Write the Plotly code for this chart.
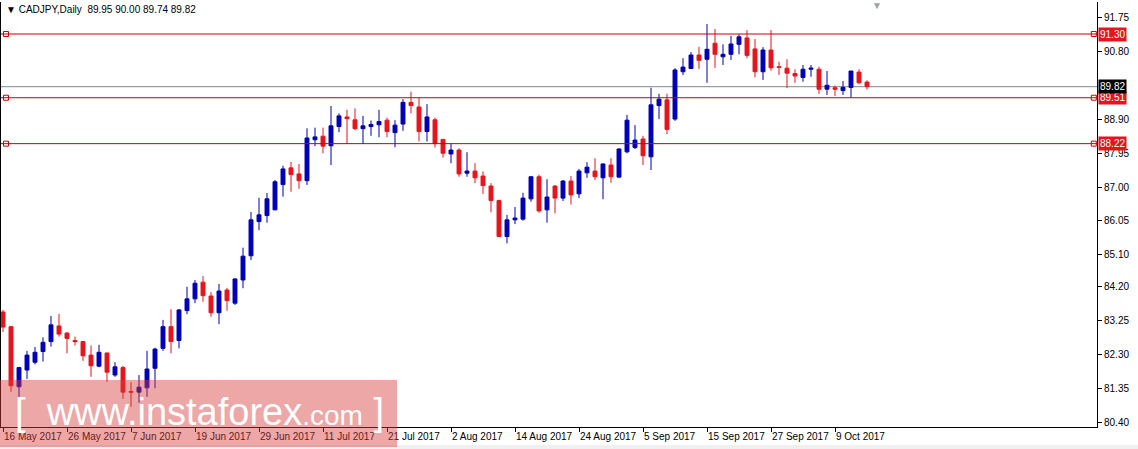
import plotly.graph_objects as go

# ---------------- data ----------------
opens = [83.49, 83.08, 81.39, 81.86, 82.08, 82.38, 82.66, 83.10, 82.90, 82.69,
         82.66, 82.28, 81.97, 82.34, 81.72, 81.93, 81.26, 81.24, 81.36, 81.91,
         82.47, 83.08, 82.69, 83.53, 83.86, 84.33, 83.94, 83.47, 84.11, 83.74,
         84.39, 85.07, 86.03, 86.20, 86.36, 87.07, 87.54, 87.37, 87.18, 88.33,
         88.43, 88.16, 88.70, 88.97, 88.89, 88.64, 88.70, 88.75, 88.88, 88.53,
         88.77, 89.38, 89.25, 88.56, 88.89, 88.34, 87.93, 88.04, 87.39, 87.45,
         87.31, 87.03, 86.62, 85.61, 86.08, 86.10, 86.67, 87.29, 86.36, 87.03,
         86.69, 87.17, 86.81, 87.40, 87.45, 87.26, 87.62, 87.28, 87.99, 88.11,
         88.35, 87.85, 89.29, 89.45, 88.91, 90.24, 90.33, 90.71, 90.59, 91.04,
         90.66, 90.73, 91.01, 91.19, 90.88, 90.24, 90.85, 90.38, 90.34, 90.19,
         90.08, 90.31, 90.31, 89.75, 89.79, 89.71, 89.80, 90.23, 89.95]
highs = [83.55, 83.10, 81.95, 82.40, 82.51, 82.78, 83.38, 83.44, 82.92, 82.80,
         82.68, 82.55, 82.57, 82.35, 82.08, 81.98, 81.52, 81.72, 82.40, 82.49,
         83.27, 83.57, 83.57, 84.20, 84.39, 84.50, 84.05, 84.28, 84.17, 84.44,
         85.30, 86.30, 86.70, 86.83, 87.20, 87.60, 87.71, 87.65, 88.65, 88.67,
         88.67, 89.28, 89.07, 89.17, 89.21, 89.00, 88.87, 89.17, 88.95, 88.88,
         89.47, 89.68, 89.51, 89.33, 88.95, 88.35, 88.23, 88.09, 87.98, 87.67,
         87.44, 87.11, 86.65, 86.22, 86.44, 86.84, 87.31, 87.35, 87.22, 87.05,
         87.20, 87.31, 87.51, 87.70, 87.81, 87.66, 87.81, 88.09, 89.03, 88.74,
         88.44, 89.79, 89.62, 89.62, 90.34, 90.62, 90.79, 90.94, 91.58, 91.44,
         91.01, 91.25, 91.29, 91.41, 91.16, 90.93, 91.41, 90.52, 90.59, 90.31,
         90.43, 90.43, 90.38, 90.26, 89.85, 89.98, 90.26, 90.31, 90.00]
lows = [82.93, 81.25, 80.58, 81.61, 82.02, 82.10, 82.52, 82.80, 82.33, 82.55,
        82.12, 81.67, 81.94, 81.53, 81.67, 81.05, 80.83, 80.94, 81.11, 81.35,
        82.40, 82.33, 82.47, 83.43, 83.74, 83.78, 83.36, 83.15, 83.53, 83.69,
        84.16, 84.95, 85.79, 86.00, 86.35, 86.73, 86.87, 86.95, 87.06, 88.15,
        87.95, 87.62, 88.54, 88.21, 88.60, 88.21, 88.44, 88.40, 88.40, 88.12,
        88.58, 89.07, 88.28, 88.28, 88.11, 87.83, 87.67, 87.29, 87.29, 87.11,
        86.81, 86.29, 85.60, 85.42, 85.96, 86.06, 86.59, 86.28, 86.00, 86.26,
        86.61, 86.51, 86.69, 87.26, 87.20, 86.66, 87.12, 87.25, 87.95, 88.07,
        87.62, 87.48, 88.91, 88.49, 88.86, 90.15, 90.32, 90.32, 89.93, 90.35,
        90.43, 90.57, 90.73, 90.62, 90.08, 90.01, 90.27, 90.15, 89.78, 89.93,
        89.96, 90.10, 89.62, 89.59, 89.56, 89.59, 89.51, 89.89, 89.74]
closes = [83.07, 81.42, 81.93, 82.28, 82.36, 82.64, 83.13, 82.87, 82.75, 82.66,
          82.26, 81.98, 82.36, 81.80, 81.95, 81.24, 81.24, 81.38, 81.89, 82.45,
          83.08, 82.66, 83.55, 83.86, 84.30, 83.95, 83.47, 84.08, 83.81, 84.42,
          85.06, 86.08, 86.22, 86.67, 87.15, 87.51, 87.35, 87.18, 88.38, 88.41,
          88.15, 88.72, 89.00, 88.92, 88.64, 88.72, 88.76, 88.84, 88.56, 88.74,
          89.38, 89.29, 88.56, 88.97, 88.22, 87.95, 88.04, 87.37, 87.45, 87.26,
          87.04, 86.62, 85.61, 86.08, 86.13, 86.69, 87.29, 86.33, 86.72, 86.69,
          87.17, 86.78, 87.45, 87.56, 87.29, 87.65, 87.29, 88.07, 88.88, 88.32,
          87.88, 89.31, 89.47, 88.62, 90.29, 90.37, 90.71, 90.56, 90.87, 90.73,
          90.73, 91.02, 91.22, 90.70, 90.24, 90.85, 90.35, 90.36, 90.20, 90.12,
          90.31, 90.34, 89.75, 89.86, 89.75, 89.80, 90.26, 89.93, 89.82]

date_labels = ["16 May 2017", "26 May 2017", "7 Jun 2017", "19 Jun 2017",
               "29 Jun 2017", "11 Jul 2017", "21 Jul 2017", "2 Aug 2017",
               "14 Aug 2017", "24 Aug 2017", "5 Sep 2017", "15 Sep 2017",
               "27 Sep 2017", "9 Oct 2017"]
label_step = 8  # bars between date labels

price_ticks = [80.40, 81.35, 82.30, 83.25, 84.20, 85.10, 86.05, 87.00,
               87.95, 88.90, 90.80, 91.75]
levels = [91.30, 89.51, 88.22]
symbol = "CADJPY,Daily"

# ---------------- styling ----------------
BLUE = "#0000b4"
RED = "#e8141c"
LEVEL_RED = "#c80000"
BID_GRAY = "#7d8894"
FONT = "Liberation Sans"
FS = 10

W, H = 1138, 449
ML, MR, MT, MB = 1, 41, 2, 22
PW, PH = W - ML - MR, H - MT - MB

x = list(range(len(opens)))
xr = [-0.25, 136.75]
yr = [80.261, 92.199]

def px_x(px):
    return (px - ML) / PW

def px_y(py):
    return (H - MB - py) / PH

fig = go.Figure()

fig.add_trace(go.Candlestick(
    x=x, open=opens, high=highs, low=lows, close=closes,
    increasing=dict(line=dict(color=BLUE, width=1), fillcolor=BLUE),
    decreasing=dict(line=dict(color=RED, width=1), fillcolor=RED),
    whiskerwidth=0, showlegend=False, hoverinfo="skip",
))

# bid line
last = closes[-1]
fig.add_shape(type="line", xref="paper", x0=0, x1=1, yref="y", y0=last, y1=last,
              line=dict(color=BID_GRAY, width=1), layer="below")

# horizontal levels with anchor squares
for lv in levels:
    fig.add_shape(type="line", xref="paper", x0=0, x1=1, yref="y", y0=lv, y1=lv,
                  line=dict(color=LEVEL_RED, width=1))
    fig.add_trace(go.Scatter(
        x=[xr[0] + 0.62, xr[1] - 0.4], y=[lv, lv], mode="markers",
        marker=dict(symbol="square-open", size=5, color=LEVEL_RED,
                    line=dict(width=1, color=LEVEL_RED)),
        showlegend=False, hoverinfo="skip", cliponaxis=False))
    fig.add_annotation(x=1, xref="paper", y=lv, yref="y", text=f"{lv:.2f}",
                       xanchor="left", yanchor="middle", showarrow=False,
                       xshift=1, bgcolor="#e8141c", borderpad=1,
                       font=dict(family=FONT, size=FS, color="white"))

fig.add_annotation(x=1, xref="paper", y=last, yref="y", text=f"{last:.2f}",
                   xanchor="left", yanchor="middle", showarrow=False,
                   xshift=1, bgcolor="black", borderpad=1,
                   font=dict(family=FONT, size=FS, color="white"))

# title
fig.add_annotation(x=px_x(4), y=px_y(9), xref="paper", yref="paper",
                   text=f"▼ {symbol}  {opens[-1]:.2f} {highs[-1]:.2f} {lows[-1]:.2f} {closes[-1]:.2f}",
                   xanchor="left", yanchor="middle", showarrow=False,
                   font=dict(family=FONT, size=FS, color="black"))

# chart-shift marker
fig.add_annotation(x=px_x(877), y=px_y(5), xref="paper", yref="paper",
                   text="▼", xanchor="center", yanchor="middle", showarrow=False,
                   font=dict(family=FONT, size=10, color="#9aa3ad"))

# bottom window strip
fig.add_shape(type="rect", xref="paper", yref="paper",
              x0=px_x(0), x1=px_x(W), y0=px_y(449), y1=px_y(445),
              fillcolor="#f0f0f0", line=dict(width=0), layer="above")

# watermark
fig.add_shape(type="rect", xref="paper", yref="paper",
              x0=px_x(0), x1=px_x(397), y0=px_y(447), y1=px_y(380),
              fillcolor="rgba(214,60,60,0.45)", line=dict(width=0), layer="above")
fig.add_annotation(x=px_x(200), y=px_y(412), xref="paper", yref="paper",
                   text="[ &nbsp;www.instaforex<span style='font-size:28px'>.com</span> ]",
                   xanchor="center", yanchor="middle", showarrow=False,
                   font=dict(family=FONT, size=38, color="white"))

fig.update_layout(
    width=W, height=H,
    margin=dict(l=ML, r=MR, t=MT, b=MB, pad=0, autoexpand=False),
    paper_bgcolor="white", plot_bgcolor="white",
    showlegend=False,
    xaxis=dict(range=xr, rangeslider=dict(visible=False),
               tickmode="array",
               tickvals=[i * label_step for i in range(len(date_labels))],
               ticktext=date_labels, ticks="outside", ticklen=4,
               tickcolor="black", showgrid=False, zeroline=False,
               showline=True, linecolor="black", linewidth=1,
               ticklabelposition="outside right", tickangle=0,
               automargin=False,
               tickfont=dict(family=FONT, size=FS, color="black")),
    yaxis=dict(range=yr, side="right", tickmode="array",
               tickvals=price_ticks, ticktext=[f"{v:.2f}" for v in price_ticks],
               ticks="outside", ticklen=4, tickcolor="black",
               showgrid=False, zeroline=False, showline=True, mirror=True,
               linecolor="black", linewidth=1, automargin=False,
               tickfont=dict(family=FONT, size=FS, color="black")),
)

fig.write_html("out.html", config={"displayModeBar": False},
               post_script="document.body.style.margin='0';document.body.style.overflow='hidden';")
